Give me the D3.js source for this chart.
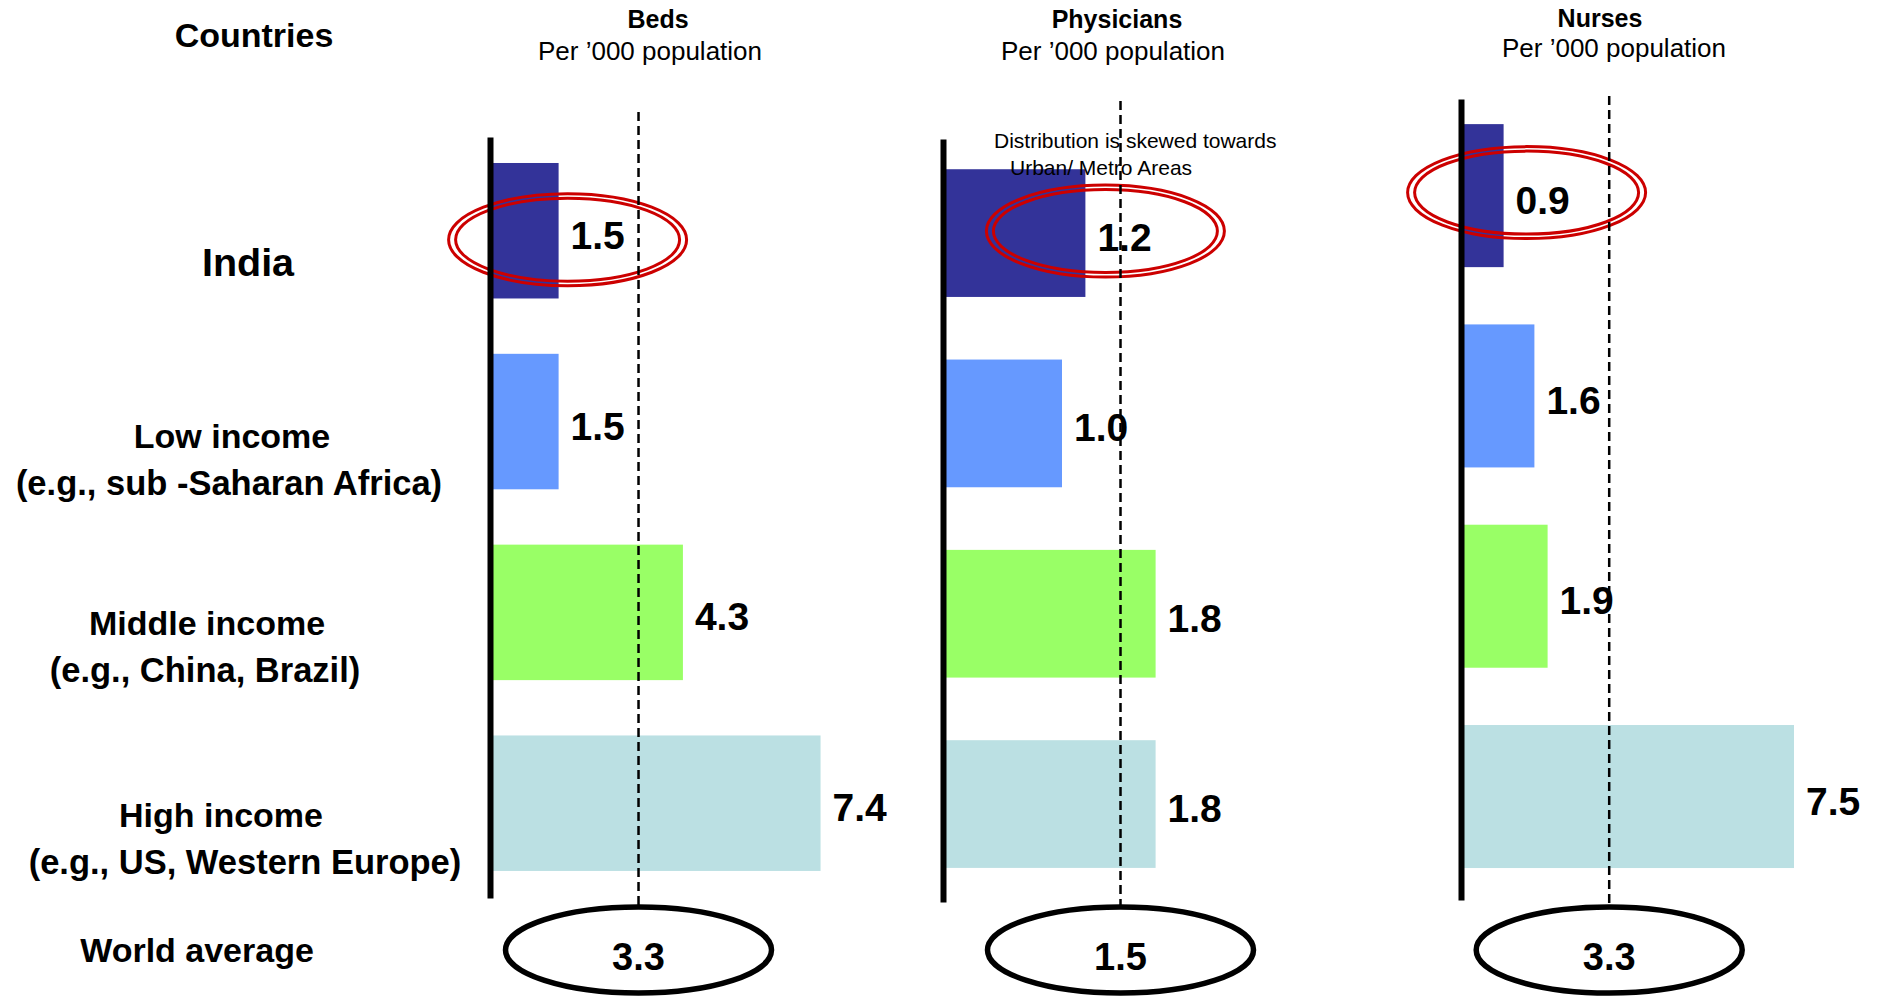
<!DOCTYPE html>
<html>
<head>
<meta charset="utf-8">
<script src="https://cdn.jsdelivr.net/npm/d3@7"></script>
<style>
  html, body { margin: 0; padding: 0; background: #fff; }
  svg { display: block; font-family: "Liberation Sans", Arial, sans-serif; }
</style>
</head>
<body>
<svg id="chart" width="1881" height="996"></svg>
<script>
// ---------------- DATA ----------------
const categories = ["India", "Low income", "Middle income", "High income"];
const categoryNotes = ["", "(e.g., sub -Saharan Africa)", "(e.g., China, Brazil)", "(e.g., US, Western Europe)"];
const metrics = ["Beds", "Physicians", "Nurses"];
const unitLabel = "Per \u2019000 population";
const bedsValues = [1.5, 1.5, 4.3, 7.4];
const physiciansValues = [1.2, 1.0, 1.8, 1.8];
const nursesValues = [0.9, 1.6, 1.9, 7.5];
const worldAverage = [3.3, 1.5, 3.3];
const worldAverageLabel = "World average";
const columnHeader = "Countries";
const physiciansNote = ["Distribution is skewed towards", "Urban/ Metro Areas"];

// ---------------- LAYOUT / STYLE ----------------
const barColors = ["#333399", "#6699FF", "#99FF66", "#BBE0E3"];
const FONT_BOLD = 700;
const panelLayout = [
  { axisX: 490,  top: 137, bottom: 898, pi: 0.29,  po: 0.139,  align: 0.49, x0: 492,  xMax: 8, xWidth: 355.2, dashTop: 112, titleX: 658,  subX: 650,  titleY: 28, subY: 60, ringDx: 9,  ringDy: 9 },
  { axisX: 943,  top: 139, bottom: 902, pi: 0.329, po: 0.169,  align: 0.47, x0: 945,  xMax: 2, xWidth: 234,   dashTop: 101, titleX: 1117, subX: 1113, titleY: 28, subY: 60, ringDx: 20, ringDy: -2 },
  { axisX: 1461, top: 99,  bottom: 900, pi: 0.286, po: 0.1425, align: 0.44, x0: 1464, xMax: 8, xWidth: 352,   dashTop: 96,  titleX: 1600, subX: 1614, titleY: 27, subY: 57, ringDx: 23, ringDy: -3 }
];
const labelLayout = {
  cx: [248, 232, 207, 221], noteCx: [0, 229, 205, 245],
  baseline: [276, 448, 635, 827], lineGap: 47,
  size: [39.5, 34, 34, 34]
};
const avgEllipse = { cy: 950, rx: 133, ry: 43 };

const svg = d3.select("#chart");
const seriesValues = [bedsValues, physiciansValues, nursesValues];

// Header
svg.append("text").attr("x", 254).attr("y", 47).attr("text-anchor", "middle")
  .attr("font-size", 34).attr("font-weight", FONT_BOLD).text(columnHeader);

// Category labels
categories.forEach((c, i) => {
  svg.append("text").attr("x", labelLayout.cx[i]).attr("y", labelLayout.baseline[i])
    .attr("text-anchor", "middle").attr("font-size", labelLayout.size[i])
    .attr("font-weight", FONT_BOLD).text(c);
  if (categoryNotes[i]) {
    svg.append("text").attr("x", labelLayout.noteCx[i]).attr("y", labelLayout.baseline[i] + labelLayout.lineGap)
      .attr("text-anchor", "middle").attr("font-size", 34.5)
      .attr("font-weight", FONT_BOLD).text(categoryNotes[i]);
  }
});
svg.append("text").attr("x", 197).attr("y", 962).attr("text-anchor", "middle")
  .attr("font-size", 34).attr("font-weight", FONT_BOLD).text(worldAverageLabel);

// Panels
metrics.forEach((m, pIdx) => {
  const L = panelLayout[pIdx];
  const vals = seriesValues[pIdx];
  const avg = worldAverage[pIdx];
  const g = svg.append("g");

  const y = d3.scaleBand().domain(categories).range([L.top, L.bottom])
    .paddingInner(L.pi).paddingOuter(L.po).align(L.align);
  const x = d3.scaleLinear().domain([0, L.xMax]).range([L.x0, L.x0 + L.xWidth]);

  // titles
  g.append("text").attr("x", L.titleX).attr("y", L.titleY).attr("text-anchor", "middle")
    .attr("font-size", 25).attr("font-weight", FONT_BOLD).text(m);
  g.append("text").attr("x", L.subX).attr("y", L.subY).attr("text-anchor", "middle")
    .attr("font-size", 26).text(unitLabel);

  // bars
  g.selectAll("rect.bar").data(vals).join("rect").attr("class", "bar")
    .attr("x", x(0)).attr("y", (d, i) => y(categories[i]))
    .attr("width", d => x(d) - x(0)).attr("height", y.bandwidth())
    .attr("fill", (d, i) => barColors[i]);

  // value labels
  g.selectAll("text.val").data(vals).join("text").attr("class", "val")
    .attr("x", d => x(d) + 12)
    .attr("y", (d, i) => y(categories[i]) + y.bandwidth() / 2 + 18)
    .attr("font-size", 39).attr("font-weight", FONT_BOLD)
    .text(d => d3.format(".1f")(d));

  // red double ellipse around India value
  const cxI = x(vals[0]) + L.ringDx;
  const cyI = y(categories[0]) + y.bandwidth() / 2 + L.ringDy;
  [[119, 46], [112, 41.5]].forEach(([rx, ry]) => {
    g.append("ellipse").attr("cx", cxI).attr("cy", cyI).attr("rx", rx).attr("ry", ry)
      .attr("fill", "none").attr("stroke", "#CC0000").attr("stroke-width", 3);
  });

  // axis (vertical line)
  const axis = g.append("g").attr("transform", `translate(${L.axisX},0)`)
    .call(d3.axisLeft(y).tickSize(0).tickSizeOuter(0).tickFormat(""));
  axis.select(".domain").attr("stroke", "#000").attr("stroke-width", 6);
  axis.selectAll(".tick").remove();

  // world average dashed line
  g.append("line").attr("x1", x(avg)).attr("x2", x(avg))
    .attr("y1", L.dashTop).attr("y2", avgEllipse.cy - avgEllipse.ry)
    .attr("stroke", "#000").attr("stroke-width", 2.5).attr("stroke-dasharray", "9,5");

  // world average ellipse
  g.append("ellipse").attr("cx", x(avg)).attr("cy", avgEllipse.cy)
    .attr("rx", avgEllipse.rx).attr("ry", avgEllipse.ry)
    .attr("fill", "#fff").attr("stroke", "#000").attr("stroke-width", 5.5);
  g.append("text").attr("x", x(avg)).attr("y", 970).attr("text-anchor", "middle")
    .attr("font-size", 38).attr("font-weight", FONT_BOLD).text(d3.format(".1f")(avg));

  if (m === "Physicians") {
    g.append("text").attr("x", 994).attr("y", 148).attr("font-size", 21).text(physiciansNote[0]);
    g.append("text").attr("x", 1010).attr("y", 175).attr("font-size", 21).text(physiciansNote[1]);
  }
});
</script>
</body>
</html>
